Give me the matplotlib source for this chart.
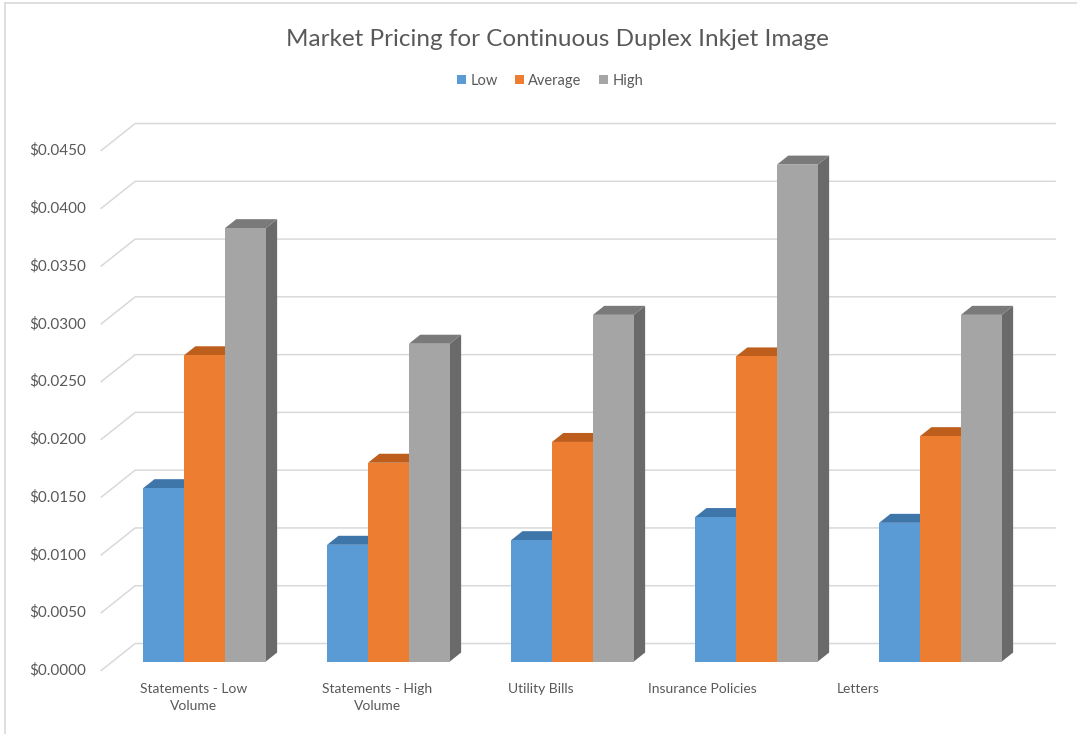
import numpy as np
import matplotlib.pyplot as plt
from matplotlib.patches import Polygon, Rectangle, Patch
from matplotlib.lines import Line2D

# price per image, by application
categories = ["Statements - Low\nVolume", "Statements - High\nVolume",
              "Utility Bills", "Insurance Policies", "Letters"]
low = [0.0150, 0.0101, 0.0105, 0.0125, 0.0120]
average = [0.0265, 0.0172, 0.0190, 0.0264, 0.0195]
high = [0.0375, 0.0275, 0.0300, 0.0430, 0.0300]
series_names = ["Low", "Average", "High"]
y_ticks = np.arange(0, 0.04501, 0.005)

# front / top / side shades for each series
front_colors = ["#5B9BD5", "#ED7D31", "#A5A5A5"]
top_colors = ["#3F76AA", "#BD5E1C", "#7A7A7A"]
side_colors = ["#3A6A98", "#A9531A", "#6A6A6A"]
text_color = "#595959"
grid_color = "#D9D9D9"

plt.rcParams["font.family"] = ["Lato", "DejaVu Sans"]

W, H = 1077, 734
fig = plt.figure(figsize=(W / 100, H / 100), dpi=100)

# axes sits on the plane of the bar fronts
ax_left, ax_right, ax_bottom, ax_top = 112.5, 1032.5, 661.5, 141.5
ax = fig.add_axes([ax_left / W, 1 - ax_bottom / H,
                   (ax_right - ax_left) / W, (ax_bottom - ax_top) / H])
ax.set_xlim(-0.5, len(categories) - 0.5)
ax.set_ylim(0, 0.045)
ax.axis("off")

# data units per pixel
ux = len(categories) / (ax_right - ax_left)
uy = 0.045 / (ax_bottom - ax_top)

# oblique depth: floor front edge -> bar front -> bar back -> back wall
front_dx, front_dy = -11.3, -9.0
bar_dx, bar_dy = 11.3, 9.0
back_dx, back_dy = 22.7, 18.0

# gridlines: short slant on the side wall plus a line across the back wall
x_lo, x_hi = -0.5, len(categories) - 0.5
for v in y_ticks:
    xs = [x_lo + front_dx * ux, x_lo + back_dx * ux, x_hi + back_dx * ux]
    ys = [v + front_dy * uy, v + back_dy * uy, v + back_dy * uy]
    ax.add_line(Line2D(xs, ys, color=grid_color, lw=1.1, clip_on=False, zorder=1))
    ax.text(x_lo + (front_dx - 15) * ux, v + front_dy * uy, f"${v:.4f}",
            ha="right", va="center", fontsize=11, color=text_color, clip_on=False)

# 3-D style columns
bar_w = 1 / 4.5
dx, dy = bar_dx * ux, bar_dy * uy
series = [low, average, high]
z = 2
for k in range(len(categories)):
    for j, vals in enumerate(series):
        v = vals[k]
        x0 = k - 1.5 * bar_w + j * bar_w
        x1 = x0 + bar_w
        side = Polygon([(x1, 0), (x1, v), (x1 + dx, v + dy), (x1 + dx, dy)],
                       closed=True, fc=side_colors[j], ec="none", zorder=z)
        top = Polygon([(x0, v), (x1, v), (x1 + dx, v + dy), (x0 + dx, v + dy)],
                      closed=True, fc=top_colors[j], ec="none", zorder=z)
        front = Rectangle((x0, 0), bar_w, v, fc=front_colors[j], ec="none", zorder=z + 1)
        for p in (side, top, front):
            p.set_clip_on(False)
            ax.add_patch(p)
        z += 2

# category labels sit below the floor front edge
label_nudge = [0.5, 0, -20.5, -43, -71.5]
for k, name in enumerate(categories):
    ax.text(k + (front_dx + label_nudge[k]) * ux, -21.5 * uy, name,
            ha="center", va="top", fontsize=10, color=text_color,
            linespacing=1.5, clip_on=False)

fig.text(557 / W, 1 - 40 / H, "Market Pricing for Continuous Duplex Inkjet Image",
         ha="center", va="center", fontsize=17.5, color=text_color)

handles = [Patch(fc=c, ec="none") for c in front_colors]
fig.legend(handles, series_names, loc="center", bbox_to_anchor=(550 / W, 1 - 81 / H),
           ncol=3, frameon=False, fontsize=10.5, labelcolor=text_color,
           handlelength=0.6, handleheight=0.6, handletextpad=0.3, columnspacing=1.2)

# chart area border
fig.add_artist(Line2D([5 / W, 5 / W], [0, 1 - 3 / H], color=grid_color, lw=1.2,
                      transform=fig.transFigure))
fig.add_artist(Line2D([5 / W, 1], [1 - 3 / H, 1 - 3 / H], color=grid_color, lw=1.2,
                      transform=fig.transFigure))

fig.savefig("out.png", dpi=100)
